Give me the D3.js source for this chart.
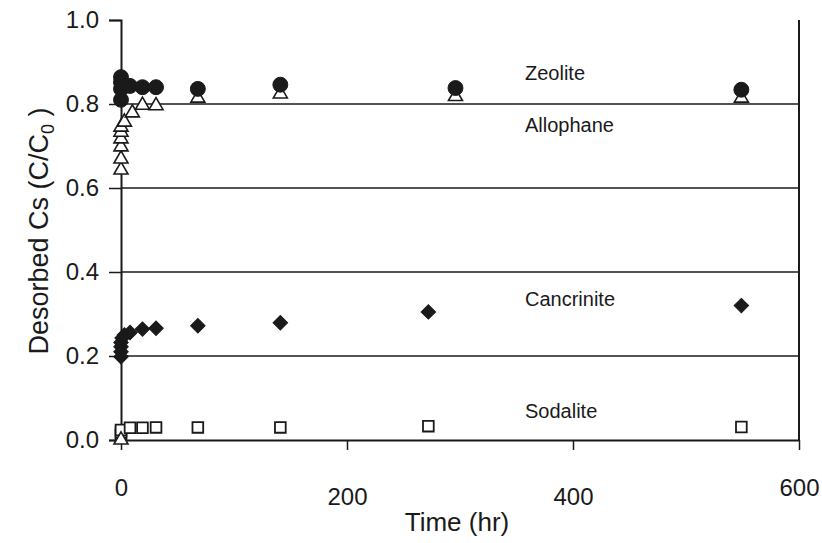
<!DOCTYPE html>
<html>
<head>
<meta charset="utf-8">
<script src="https://cdn.jsdelivr.net/npm/d3@7"></script>
<style>
  html, body { margin: 0; padding: 0; background: #fff; }
  svg { display: block; font-family: "Liberation Sans", Arial, sans-serif; }
</style>
</head>
<body>
<svg id="chart" width="822" height="543"></svg>
<script>
// Desorption of Cs over time for four minerals (C/C0)
const zeoliteTime   = [0, 0, 0, 0, 0.5, 3, 8, 19, 31, 68, 141, 296, 549];
const zeoliteValue  = [0.81, 0.836, 0.852, 0.864, 0.85, 0.843, 0.843, 0.84, 0.84, 0.836, 0.846, 0.838, 0.834];

const allophaneTime  = [0, 0, 0, 0, 0, 0, 0, 3, 10, 19, 31, 68, 141, 296, 549];
const allophaneValue = [0, 0.643, 0.669, 0.698, 0.717, 0.733, 0.745, 0.757, 0.779, 0.797, 0.796, 0.814, 0.824, 0.818, 0.814];

const cancriniteTime  = [0, 0, 0, 0, 1, 3, 8, 19, 31, 68, 141, 272, 549];
const cancriniteValue = [0.198, 0.21, 0.222, 0.232, 0.243, 0.25, 0.256, 0.264, 0.266, 0.272, 0.279, 0.305, 0.32];

const sodaliteTime  = [0, 0, 0, 8, 19, 31, 68, 141, 272, 549];
const sodaliteValue = [0.012, 0.018, 0.024, 0.029, 0.029, 0.03, 0.03, 0.03, 0.033, 0.031];

const xTicks = [0, 200, 400, 600];
const yTicks = [0, 0.2, 0.4, 0.6, 0.8, 1.0];
const gridValues = [0.2, 0.4, 0.6, 0.8];

const seriesLabels = [
  { name: "Zeolite",    value: 0.875 },
  { name: "Allophane",  value: 0.75 },
  { name: "Cancrinite", value: 0.335 },
  { name: "Sodalite",   value: 0.069 }
];

const svg = d3.select("#chart");
const plotLeft = 121, plotRight = 799, plotTop = 20, plotBottom = 440;
const ink = "#1a1a1a";
const fontStack = "Liberation Sans, Arial, sans-serif";

const x = d3.scaleLinear().domain([0, 600]).range([plotLeft, plotRight]);
const y = d3.scaleLinear().domain([0, 1]).range([plotBottom, plotTop]);

// horizontal gridlines
svg.append("g").selectAll("line").data(gridValues).join("line")
  .attr("x1", plotLeft).attr("x2", plotRight)
  .attr("y1", d => y(d)).attr("y2", d => y(d))
  .attr("stroke", ink).attr("stroke-width", 1.4);

// right frame edge
svg.append("line")
  .attr("x1", plotRight).attr("x2", plotRight).attr("y1", plotTop).attr("y2", plotBottom)
  .attr("stroke", ink).attr("stroke-width", 2);

// y axis
const yAxis = svg.append("g")
  .attr("transform", `translate(${plotLeft},0)`)
  .call(d3.axisLeft(y).tickValues(yTicks).tickFormat(d3.format(".1f")).tickSize(12).tickPadding(10));
yAxis.select(".domain").attr("stroke", ink).attr("stroke-width", 2);
yAxis.selectAll(".tick line").attr("stroke", ink).attr("stroke-width", 1.5);
yAxis.selectAll(".tick text").attr("font-size", 24).attr("fill", ink)
  .attr("font-family", fontStack);

// x axis
const xAxis = svg.append("g")
  .attr("transform", `translate(0,${plotBottom})`)
  .call(d3.axisBottom(x).tickValues(xTicks).tickFormat(d3.format("d")).tickSizeInner(10).tickSizeOuter(0));
xAxis.select(".domain").attr("stroke", ink).attr("stroke-width", 2);
xAxis.selectAll(".tick line").attr("stroke", ink).attr("stroke-width", 1.5);
xAxis.selectAll(".tick text")
  .attr("font-size", 24).attr("fill", ink)
  .attr("font-family", fontStack)
  .attr("dy", null)
  .attr("y", d => (d === 0 || d === 600) ? 56 : 65);

// markers
function plot(times, values, symbolType, size, fill, strokeWidth, rotate) {
  const sym = d3.symbol().type(symbolType).size(size);
  svg.append("g").selectAll("path").data(times.map((t, i) => [t, values[i]])).join("path")
    .attr("d", sym)
    .attr("transform", d => `translate(${x(d[0])},${y(d[1])})` + (rotate ? ` rotate(${rotate})` : ""))
    .attr("fill", fill)
    .attr("stroke", ink)
    .attr("stroke-width", strokeWidth);
}

plot(sodaliteTime, sodaliteValue, d3.symbolSquare, 115, "#fff", 1.8, 0);
plot(allophaneTime, allophaneValue, d3.symbolTriangle, 85, "#fff", 1.6, 0);
plot(zeoliteTime, zeoliteValue, d3.symbolCircle, 175, ink, 1, 0);
plot(cancriniteTime, cancriniteValue, d3.symbolSquare, 105, ink, 1, 45);

// series names
svg.append("g").selectAll("text").data(seriesLabels).join("text")
  .attr("x", 525).attr("y", d => y(d.value) + 7)
  .attr("font-size", 20).attr("fill", ink)
  .text(d => d.name);

// axis titles
svg.append("text")
  .attr("x", 457).attr("y", 531)
  .attr("text-anchor", "middle")
  .attr("font-size", 26).attr("fill", ink)
  .text("Time (hr)");

const yTitle = svg.append("text")
  .attr("transform", "translate(48,231) rotate(-90)")
  .attr("text-anchor", "middle")
  .attr("font-size", 27).attr("fill", ink);
yTitle.append("tspan").text("Desorbed Cs (C/C");
yTitle.append("tspan").attr("font-size", 18).attr("dy", 6).text("0");
yTitle.append("tspan").attr("dy", -6).text(" )");
</script>
</body>
</html>
